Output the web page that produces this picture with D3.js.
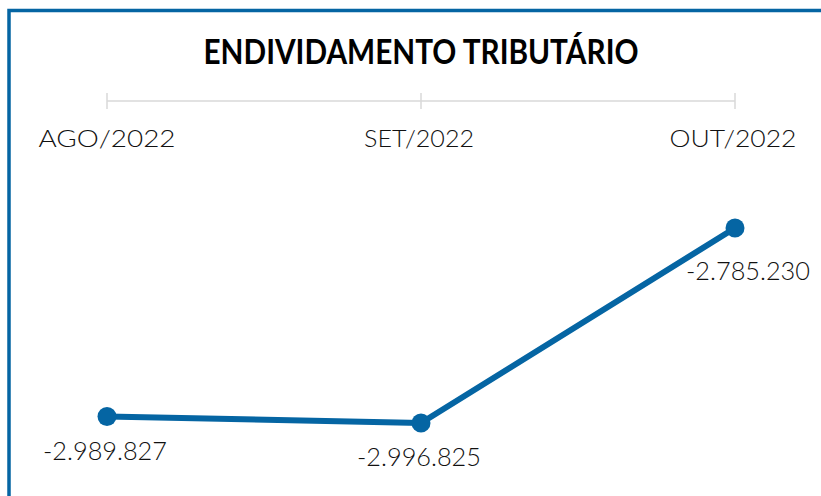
<!DOCTYPE html>
<html>
<head>
<meta charset="utf-8">
<script src="https://d3js.org/d3.v7.min.js"></script>
<style>
  body { margin: 0; background: #fff; }
  svg { display: block; }
</style>
</head>
<body>
<svg id="chart" width="821" height="496"></svg>
<script>
const months = ["AGO/2022", "SET/2022", "OUT/2022"];
const values = [-2989827, -2996825, -2785230];
const labels = ["-2.989.827", "-2.996.825", "-2.785.230"];
const title = "ENDIVIDAMENTO TRIBUTÁRIO";

const svg = d3.select("#chart");
const blue = "#0565a3";
const font = "Lato, 'Open Sans', sans-serif";

// frame (only left and top edges show)
svg.append("rect")
  .attr("x", 9).attr("y", 10.5)
  .attr("width", 830).attr("height", 500)
  .attr("fill", "none")
  .attr("stroke", blue)
  .attr("stroke-width", 3.5);

svg.append("text")
  .attr("x", 421).attr("y", 64)
  .attr("text-anchor", "middle")
  .attr("font-family", font)
  .attr("font-weight", "bold")
  .attr("font-size", 34)
  .attr("textLength", 435)
  .attr("lengthAdjust", "spacingAndGlyphs")
  .text(title);

const x = d3.scalePoint().domain(months).range([107, 735]);
const y = d3.scaleLinear()
  .domain([d3.min(values), d3.max(values)])
  .range([423, 228]);

// top axis
const axis = svg.append("g").attr("transform", "translate(0,101)");
axis.append("line")
  .attr("x1", x(months[0])).attr("x2", x(months[2]))
  .attr("stroke", "#d9d9d9").attr("stroke-width", 1.5);
axis.selectAll(".tick")
  .data(months)
  .join("line")
  .attr("x1", d => x(d)).attr("x2", d => x(d))
  .attr("y1", -8).attr("y2", 8)
  .attr("stroke", "#d9d9d9").attr("stroke-width", 1.5);

// label widths / offsets to mimic the original wide font
const labW = [137, 110, 127];
const labDx = [0, -2, -2];
axis.selectAll(".lab")
  .data(months)
  .join("text")
  .attr("x", (d, i) => x(d) + labDx[i])
  .attr("y", 46)
  .attr("text-anchor", "middle")
  .attr("font-family", font)
  .attr("font-weight", 300)
  .attr("font-size", 24)
  .attr("fill", "#111")
  .attr("textLength", (d, i) => labW[i])
  .attr("lengthAdjust", "spacingAndGlyphs")
  .text(d => d);

const pts = months.map((m, i) => ({ m, v: values[i], l: labels[i] }));

svg.append("path")
  .datum(pts)
  .attr("fill", "none")
  .attr("stroke", blue)
  .attr("stroke-width", 6)
  .attr("stroke-linejoin", "round")
  .attr("d", d3.line().x(d => x(d.m)).y(d => y(d.v)));

svg.selectAll(".dot")
  .data(pts)
  .join("circle")
  .attr("cx", d => x(d.m))
  .attr("cy", d => y(d.v))
  .attr("r", 9.5)
  .attr("fill", blue);

const dx = [-2, -2, 13];
const dy = [43, 43, 52];
svg.selectAll(".val")
  .data(pts)
  .join("text")
  .attr("x", (d, i) => x(d.m) + dx[i])
  .attr("y", (d, i) => y(d.v) + dy[i])
  .attr("text-anchor", "middle")
  .attr("font-family", font)
  .attr("font-weight", 300)
  .attr("font-size", 25)
  .attr("fill", "#111")
  .attr("textLength", 124)
  .attr("lengthAdjust", "spacingAndGlyphs")
  .text(d => d.l);
</script>
</body>
</html>
